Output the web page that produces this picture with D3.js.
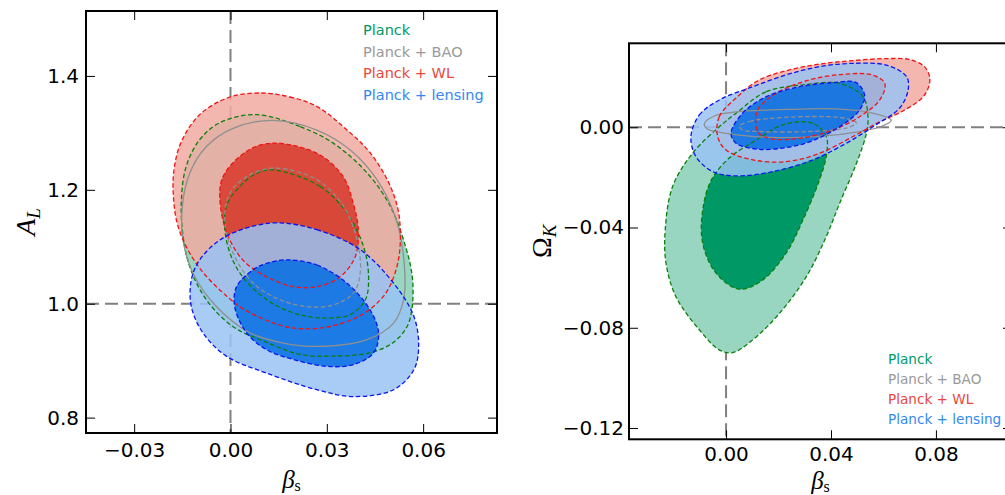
<!DOCTYPE html>
<html>
<head>
<meta charset="utf-8">
<script src="https://cdn.jsdelivr.net/npm/d3@7/dist/d3.min.js"></script>
<style>
    html, body { margin: 0; padding: 0; background: #fff; }
    svg { display: block; }
</style>
</head>
<body>
<svg id="chart"></svg>
<script>
'use strict';

/*
    Data
*/

const LEGEND_LABELS = ['Planck', 'Planck + BAO', 'Planck + WL', 'Planck + lensing'];

const AL_X_TICKS = [-0.03, 0.00, 0.03, 0.06];
const AL_Y_TICKS = [0.8, 1.0, 1.2, 1.4];
const OK_X_TICKS = [0.00, 0.04, 0.08];
const OK_Y_TICKS = [-0.12, -0.08, -0.04, 0.00];

// beta_s vs A_L : [beta_s, A_L]
const AL_PLANCK_95 = [[0.0081,1.332],[0.0217,1.311],[0.0320,1.282],[0.0425,1.230],[0.0498,1.171],[0.0545,1.101],[0.0566,1.048],[0.0566,0.995],[0.0550,0.960],[0.0507,0.932],[0.0435,0.914],[0.0320,0.908],[0.0217,0.911],[0.0113,0.932],[0.0007,0.960],[-0.0075,1.007],[-0.0127,1.065],[-0.0149,1.125],[-0.0153,1.182],[-0.0138,1.241],[-0.0096,1.288],[-0.0033,1.318]];
const AL_PLANCK_68 = [[0.0133,1.235],[0.0279,1.206],[0.0363,1.159],[0.0414,1.101],[0.0430,1.048],[0.0420,1.007],[0.0373,0.981],[0.0279,0.975],[0.0196,0.984],[0.0113,1.007],[0.0029,1.054],[-0.0013,1.112],[-0.0013,1.171],[0.0029,1.206],[0.0081,1.229]];
const AL_BAO_95 = [[0.0133,1.322],[0.0269,1.305],[0.0373,1.270],[0.0456,1.218],[0.0513,1.153],[0.0539,1.083],[0.0539,1.007],[0.0508,0.966],[0.0425,0.937],[0.0269,0.925],[0.0164,0.931],[0.0060,0.949],[-0.0044,0.995],[-0.0117,1.054],[-0.0148,1.112],[-0.0150,1.171],[-0.0127,1.229],[-0.0075,1.276],[0.0008,1.308]];
const AL_BAO_68 = [[0.0133,1.238],[0.0269,1.218],[0.0352,1.171],[0.0394,1.112],[0.0404,1.054],[0.0383,1.019],[0.0321,0.998],[0.0238,0.995],[0.0154,1.007],[0.0071,1.036],[0.0008,1.089],[-0.0018,1.147],[-0.0002,1.194],[0.0050,1.223]];
const AL_WL_95 = [[0.0098,1.370],[0.0185,1.363],[0.0270,1.346],[0.0373,1.300],[0.0435,1.265],[0.0488,1.218],[0.0520,1.170],[0.0529,1.125],[0.0523,1.077],[0.0498,1.033],[0.0467,1.007],[0.0404,0.979],[0.0310,0.960],[0.0232,0.956],[0.0163,0.961],[0.0045,0.989],[-0.0027,1.021],[-0.0087,1.056],[-0.0133,1.095],[-0.0165,1.139],[-0.0177,1.182],[-0.0177,1.230],[-0.0155,1.282],[-0.0096,1.332],[-0.0002,1.363]];
const AL_WL_68 = [[0.0132,1.282],[0.0217,1.275],[0.0288,1.258],[0.0351,1.223],[0.0382,1.177],[0.0398,1.130],[0.0388,1.082],[0.0341,1.047],[0.0270,1.030],[0.0195,1.030],[0.0113,1.047],[0.0038,1.077],[-0.0012,1.125],[-0.0033,1.182],[-0.0027,1.218],[0.0007,1.247],[0.0070,1.274]];
const AL_LENS_95 = [[0.0144,1.142],[0.0269,1.130],[0.0404,1.095],[0.0508,1.036],[0.0571,0.978],[0.0586,0.925],[0.0571,0.884],[0.0508,0.849],[0.0383,0.837],[0.0269,0.849],[0.0113,0.878],[-0.0013,0.908],[-0.0086,0.949],[-0.0122,0.995],[-0.0122,1.042],[-0.0096,1.077],[-0.0033,1.112],[0.0050,1.133]];
const AL_LENS_68 = [[0.0175,1.077],[0.0269,1.068],[0.0363,1.036],[0.0435,0.989],[0.0461,0.949],[0.0446,0.914],[0.0383,0.893],[0.0300,0.890],[0.0196,0.902],[0.0113,0.919],[0.0050,0.949],[0.0013,0.995],[0.0019,1.030],[0.0071,1.060],[0.0113,1.071]];

// beta_s vs Omega_K : [beta_s, Omega_K]
const OK_PLANCK_95 = [[0.0038,0.0056],[0.0153,0.0142],[0.0293,0.0169],[0.0433,0.0175],[0.0522,0.0122],[0.0541,0.0042],[0.0535,-0.0024],[0.0497,-0.0144],[0.0433,-0.0303],[0.0382,-0.0436],[0.0306,-0.0596],[0.0204,-0.0742],[0.0102,-0.0848],[0.0025,-0.0899],[-0.0026,-0.0888],[-0.0102,-0.0808],[-0.0191,-0.0676],[-0.0229,-0.0542],[-0.0232,-0.0410],[-0.0204,-0.0237],[-0.0128,-0.0104],[-0.0026,0.0002]];
const OK_PLANCK_68 = [[0.0280,0.0022],[0.0337,0.0013],[0.0382,-0.0037],[0.0383,-0.0110],[0.0356,-0.0210],[0.0293,-0.0370],[0.0229,-0.0502],[0.0140,-0.0609],[0.0051,-0.0646],[-0.0038,-0.0582],[-0.0089,-0.0463],[-0.0089,-0.0330],[-0.0056,-0.0210],[0.0013,-0.0122],[0.0115,-0.0051],[0.0204,0.0005]];
const OK_BAO_95 = [[-0.0083,0.0013],[-0.0045,0.0045],[0.0038,0.0061],[0.0229,0.0071],[0.0420,0.0073],[0.0547,0.0059],[0.0630,0.0027],[0.0586,0.0001],[0.0509,-0.0017],[0.0356,-0.0036],[0.0165,-0.0040],[0.0000,-0.0024],[-0.0071,-0.0007]];
const OK_BAO_68 = [[0.0051,0.0005],[0.0089,0.0023],[0.0127,0.0031],[0.0318,0.0043],[0.0458,0.0035],[0.0497,0.0017],[0.0458,-0.0003],[0.0318,-0.0017],[0.0127,-0.0017],[0.0063,-0.0011]];
const OK_WL_95 = [[-0.0032,-0.0037],[-0.0026,0.0042],[0.0038,0.0117],[0.0127,0.0189],[0.0242,0.0229],[0.0356,0.0252],[0.0484,0.0266],[0.0611,0.0274],[0.0700,0.0270],[0.0758,0.0240],[0.0777,0.0189],[0.0754,0.0125],[0.0681,0.0069],[0.0586,0.0022],[0.0484,-0.0037],[0.0356,-0.0104],[0.0229,-0.0137],[0.0102,-0.0130],[0.0000,-0.0091]];
const OK_WL_68 = [[0.0115,0.0002],[0.0120,0.0069],[0.0191,0.0136],[0.0318,0.0189],[0.0445,0.0211],[0.0555,0.0209],[0.0605,0.0175],[0.0586,0.0109],[0.0509,0.0042],[0.0407,-0.0011],[0.0280,-0.0044],[0.0178,-0.0047],[0.0127,-0.0027]];
const OK_LENS_95 = [[-0.0134,-0.0037],[-0.0102,0.0049],[-0.0026,0.0109],[0.0102,0.0162],[0.0229,0.0209],[0.0356,0.0242],[0.0484,0.0255],[0.0611,0.0248],[0.0688,0.0202],[0.0694,0.0149],[0.0662,0.0077],[0.0560,0.0002],[0.0458,-0.0064],[0.0331,-0.0130],[0.0178,-0.0177],[0.0038,-0.0194],[-0.0051,-0.0177],[-0.0115,-0.0117]];
const OK_LENS_68 = [[0.0019,-0.0024],[0.0063,0.0056],[0.0153,0.0122],[0.0280,0.0162],[0.0407,0.0178],[0.0494,0.0179],[0.0528,0.0129],[0.0509,0.0069],[0.0433,0.0002],[0.0326,-0.0055],[0.0229,-0.0081],[0.0127,-0.0088],[0.0038,-0.0064]];

/*
    Styles
*/

const SVG = d3.select('#chart').attr('width', 1005).attr('height', 495);

const FONT = '"DejaVu Sans", sans-serif';
const MATH_FONT = '"Liberation Serif", "DejaVu Serif", serif';

// one entry per data set, same order as LEGEND_LABELS
const SERIES_STYLE = [
    { text: '#009966', outerFill: '#99d6c2', innerFill: '#009966', opacity: 1.0,  line: '#0a800a', filled: true,  dash: '4.5,2.5' },
    { text: '#999999', outerFill: 'none',    innerFill: 'none',    opacity: 0,    line: '#8f8f8f', filled: false, dash: null },
    { text: '#e8473b', outerFill: '#f1aaa1', innerFill: '#d83728', opacity: 0.85, line: '#f01414', filled: true,  dash: '4.5,2.5' },
    { text: '#3388ee', outerFill: '#99c3f3', innerFill: '#066de3', opacity: 0.85, line: '#0a14f0', filled: true,  dash: '4.5,2.5' }
];

const INNER_DASH = '4.5,2.5';
const TICK_LENGTH = 9;

/*
    Functions
*/

function drawPanel(p) {

    const x = d3.scaleLinear().domain(p.xDomain).range([p.left, p.right]);
    const y = d3.scaleLinear().domain(p.yDomain).range([p.bottom, p.top]);

    const g = SVG.append('g');

    g.append('clipPath')
        .attr('id', p.id + '-clip')
      .append('rect')
        .attr('x', p.left).attr('y', p.top)
        .attr('width', p.right - p.left).attr('height', p.bottom - p.top);

    const plot = g.append('g').attr('clip-path', `url(#${p.id}-clip)`);

    // reference lines (under the contours)
    plot.append('line')
        .attr('x1', x(0)).attr('x2', x(0))
        .attr('y1', p.top).attr('y2', p.bottom)
        .attr('stroke', '#808080').attr('stroke-width', 2)
        .attr('stroke-dasharray', '13,6');
    plot.append('line')
        .attr('x1', p.left).attr('x2', p.right)
        .attr('y1', y(p.refY)).attr('y2', y(p.refY))
        .attr('stroke', '#808080').attr('stroke-width', 2)
        .attr('stroke-dasharray', '13,6');

    const contour = d3.line()
        .x(d => x(d[0]))
        .y(d => y(d[1]))
        .curve(d3.curveCatmullRomClosed.alpha(0.5));

    // fills, in drawing order
    p.contours.forEach((c, i) => {
        const s = SERIES_STYLE[i];
        if (!s.filled) return;
        plot.append('path').attr('d', contour(c[0]))
            .attr('fill', s.outerFill).attr('fill-opacity', s.opacity).attr('stroke', 'none');
        plot.append('path').attr('d', contour(c[1]))
            .attr('fill', s.innerFill).attr('fill-opacity', s.opacity).attr('stroke', 'none');
    });

    // outlines on top
    p.contours.forEach((c, i) => {
        const s = SERIES_STYLE[i];
        plot.append('path').attr('d', contour(c[0]))
            .attr('fill', 'none').attr('stroke', s.line).attr('stroke-width', 1.3)
            .attr('stroke-dasharray', s.dash);
        plot.append('path').attr('d', contour(c[1]))
            .attr('fill', 'none').attr('stroke', s.line).attr('stroke-width', 1.3)
            .attr('stroke-dasharray', INNER_DASH);
    });

    // axes, ticks pointing inwards on all four sides
    const styleAxis = sel => {
        sel.select('.domain').remove();
        sel.selectAll('.tick line').attr('stroke', '#000').attr('stroke-width', 1);
        sel.selectAll('.tick text')
            .attr('fill', '#000')
            .style('font-family', FONT)
            .style('font-size', '20px');
    };

    g.append('g')
        .attr('transform', `translate(0,${p.bottom})`)
        .call(d3.axisBottom(x).tickValues(p.xTicks).tickFormat(d3.format('.2f'))
            .tickSize(-TICK_LENGTH).tickPadding(p.xPad))
        .call(styleAxis);
    g.append('g')
        .attr('transform', `translate(0,${p.top})`)
        .call(d3.axisTop(x).tickValues(p.xTicks).tickFormat('').tickSize(-TICK_LENGTH))
        .call(styleAxis);
    g.append('g')
        .attr('transform', `translate(${p.left},0)`)
        .call(d3.axisLeft(y).tickValues(p.yTicks).tickFormat(d3.format(p.yFormat))
            .tickSize(-TICK_LENGTH).tickPadding(p.yPad))
        .call(styleAxis);
    g.append('g')
        .attr('transform', `translate(${p.right},0)`)
        .call(d3.axisRight(y).tickValues(p.yTicks).tickFormat('').tickSize(-TICK_LENGTH))
        .call(styleAxis);

    g.append('rect')
        .attr('x', p.left).attr('y', p.top)
        .attr('width', p.right - p.left).attr('height', p.bottom - p.top)
        .attr('fill', 'none').attr('stroke', '#000').attr('stroke-width', 2);

    // axis labels
    const xl = g.append('text')
        .attr('x', (p.left + p.right) / 2).attr('y', p.xLabelY)
        .attr('text-anchor', 'middle')
        .style('font-family', MATH_FONT).style('font-size', '25px');
    xl.append('tspan').style('font-style', 'italic').text('β');
    xl.append('tspan').attr('dy', 3).style('font-size', '16px').text('s');

    const yl = g.append('text')
        .attr('transform', `translate(${p.yLabelX},${(p.top + p.bottom) / 2}) rotate(-90)`)
        .attr('text-anchor', 'middle')
        .style('font-family', MATH_FONT).style('font-size', '28px');
    yl.append('tspan').style('font-style', p.yLabelItalic ? 'italic' : 'normal').text(p.yLabel[0]);
    yl.append('tspan').attr('dy', 5).style('font-style', 'italic').style('font-size', '19px').text(p.yLabel[1]);

    // legend
    g.selectAll('.legend')
        .data(LEGEND_LABELS)
        .join('text')
        .attr('x', p.legendX)
        .attr('y', (d, i) => p.legendY + i * p.legendStep)
        .attr('fill', (d, i) => SERIES_STYLE[i].text)
        .style('font-family', FONT)
        .style('font-size', p.legendSize + 'px')
        .text(d => d);
}

/*
    Panels
*/

drawPanel({
    id: 'al',
    left: 86, right: 497, top: 11, bottom: 433,
    xDomain: [-0.045, 0.083], yDomain: [0.773, 1.514],
    xTicks: AL_X_TICKS, yTicks: AL_Y_TICKS, yFormat: '.1f',
    xPad: 10, yPad: 7, refY: 1.0,
    xLabelY: 488, yLabelX: 35, yLabel: ['A', 'L'], yLabelItalic: true,
    legendX: 363, legendY: 35, legendStep: 21.7, legendSize: 14.5,
    contours: [
        [AL_PLANCK_95, AL_PLANCK_68],
        [AL_BAO_95, AL_BAO_68],
        [AL_WL_95, AL_WL_68],
        [AL_LENS_95, AL_LENS_68]
    ]
});

drawPanel({
    id: 'ok',
    left: 629, right: 1012, top: 43.3, bottom: 439.3,
    xDomain: [-0.037, 0.109], yDomain: [-0.1245, 0.0335],
    xTicks: OK_X_TICKS, yTicks: OK_Y_TICKS, yFormat: '.2f',
    xPad: 7.5, yPad: 5, refY: 0.0,
    xLabelY: 489, yLabelX: 551, yLabel: ['Ω', 'K'], yLabelItalic: false,
    legendX: 888, legendY: 364, legendStep: 20.1, legendSize: 13.6,
    contours: [
        [OK_PLANCK_95, OK_PLANCK_68],
        [OK_BAO_95, OK_BAO_68],
        [OK_WL_95, OK_WL_68],
        [OK_LENS_95, OK_LENS_68]
    ]
});
</script>
</body>
</html>
